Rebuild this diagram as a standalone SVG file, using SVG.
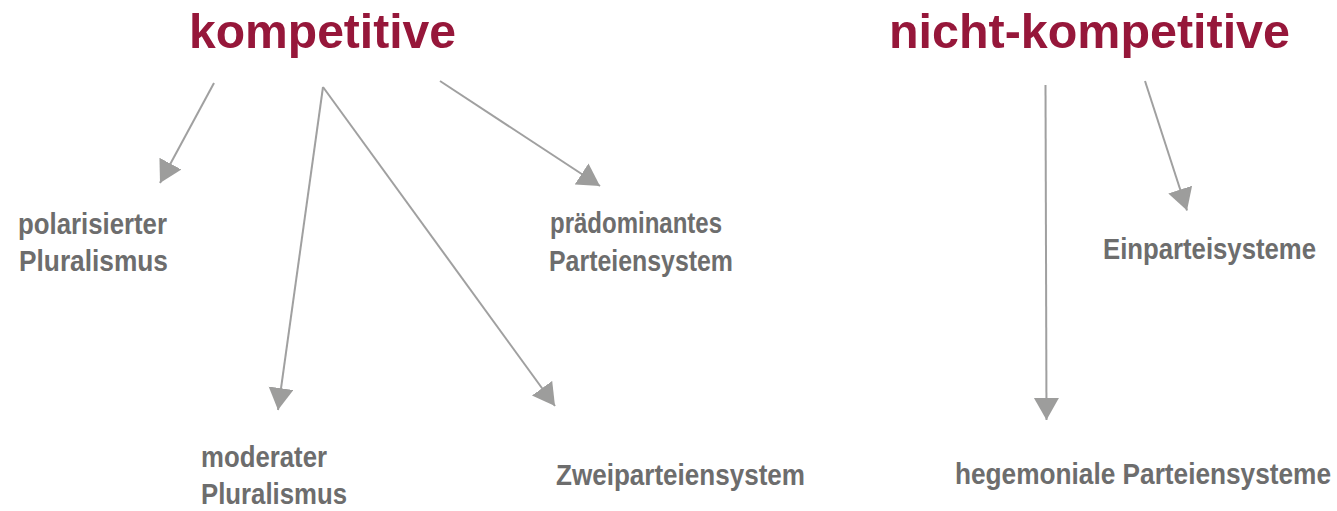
<svg xmlns="http://www.w3.org/2000/svg" width="1337" height="511" viewBox="0 0 1337 511">
<style>
.title{font-family:"Liberation Sans",Arial,sans-serif;font-weight:bold;font-size:48px;fill:#96173a}
.label{font-family:"Liberation Sans",Arial,sans-serif;font-weight:bold;font-size:30px;fill:#6d6d6d}
.conn{stroke:#a0a0a0;stroke-width:2;fill:none;marker-end:url(#head)}
</style>
<defs>
<marker id="head" markerUnits="userSpaceOnUse" markerWidth="24" markerHeight="26" refX="22" refY="12.5" orient="auto" viewBox="0 0 24 26">
<path d="M0,0 L22,12.5 L0,25 z" fill="#9d9d9c"/>
</marker>
</defs>
<rect width="1337" height="511" fill="#ffffff"/>
<g id="connectors">
<line class="conn" x1="214" y1="83" x2="160" y2="183"/>
<line class="conn" x1="323" y1="87" x2="278" y2="410"/>
<line class="conn" x1="323" y1="87" x2="555" y2="406"/>
<line class="conn" x1="440" y1="81" x2="600" y2="186"/>
<line class="conn" x1="1045.5" y1="85" x2="1046.5" y2="420"/>
<line class="conn" x1="1145" y1="81" x2="1187" y2="210.5"/>
</g>
<g id="kompetitive"><text class="title" x="189" y="48" textLength="267" lengthAdjust="spacingAndGlyphs">kompetitive</text></g>
<g id="nicht-kompetitive"><text class="title" x="889" y="48" textLength="401" lengthAdjust="spacingAndGlyphs">nicht-kompetitive</text></g>
<g id="polarisierter-pluralismus">
<text class="label" x="18" y="234" textLength="149" lengthAdjust="spacingAndGlyphs">polarisierter</text>
<text class="label" x="19" y="271" textLength="149" lengthAdjust="spacingAndGlyphs">Pluralismus</text>
</g>
<g id="moderater-pluralismus">
<text class="label" x="201" y="467" textLength="126" lengthAdjust="spacingAndGlyphs">moderater</text>
<text class="label" x="201" y="504" textLength="146" lengthAdjust="spacingAndGlyphs">Pluralismus</text>
</g>
<g id="praedominantes-parteiensystem">
<text class="label" x="550" y="233" textLength="172" lengthAdjust="spacingAndGlyphs">prädominantes</text>
<text class="label" x="549" y="271" textLength="184" lengthAdjust="spacingAndGlyphs">Parteiensystem</text>
</g>
<g id="zweiparteiensystem">
<text class="label" x="556" y="485" textLength="249" lengthAdjust="spacingAndGlyphs">Zweiparteiensystem</text>
</g>
<g id="einparteisysteme">
<text class="label" transform="translate(1103,259) scale(0.8575,1)" x="0" y="0" textLength="248.4" lengthAdjust="spacingAndGlyphs">Einparteisysteme</text>
</g>
<g id="hegemoniale-parteiensysteme">
<text class="label" transform="translate(955,484) scale(0.874,1)" x="0" y="0" textLength="430.2" lengthAdjust="spacingAndGlyphs">hegemoniale Parteiensysteme</text>
</g>
</svg>
